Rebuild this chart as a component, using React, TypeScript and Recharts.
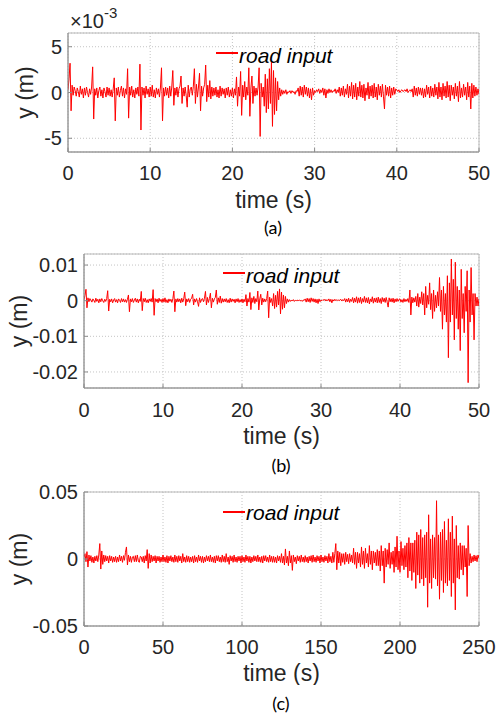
import React from "react";
import {
  LineChart,
  Line,
  XAxis,
  YAxis,
  CartesianGrid,
  ReferenceArea
} from "recharts";

// sample step of the road profiles (s)
const stepAB = 0.125;
const stepC = 0.625;

// (a) road input, values in 1e-3 m, one value every 0.125 s from 0 to 50 s (two rows = 5 s)
const roadA = [
  0.3, 1.5, 3.2, -2.0, 0.8, -0.3, 0.6, 0.2, -0.4, 0.5, 0.1, -0.5, 0.7, -0.2, 0.4, -0.6, 0.5, -0.3, 0.6, 0.0,
  -0.5, 0.4, -0.2, 0.6, 2.8, -2.9, 0.4, -0.3, 0.5, -0.6, 0.2, 0.6, -0.4, 0.3, -0.6, 0.5, 0.1, -0.5, 0.6, -0.3,
  0.5, -0.4, 0.3, -0.5, 0.4, 1.6, -3.1, 0.5, -0.3, 0.6, -0.5, 0.2, 0.7, -0.4, 0.5, -0.6, 0.4, -0.2, 2.6, -2.8,
  0.6, -0.3, 0.7, -0.5, 0.3, -0.6, 0.5, -0.2, 0.6, -0.4, 3.1, -4.1, 0.6, -0.3, 0.5, -0.6, 0.7, -0.2, 0.4, -0.5,
  0.6, -0.4, 0.8, -0.5, 0.3, -0.6, 0.5, -0.2, 0.4, -0.5, 0.6, 2.7, -3.1, 0.5, -0.4, 0.6, -0.3, 0.5, -0.6, 0.7,
  -0.4, 0.6, 2.4, -1.4, 0.5, -0.3, 0.6, -0.5, 0.4, 0.7, 1.8, -1.2, 0.5, -0.4, 0.6, -0.3, -1.6, 0.8, -0.5, 0.4,
  0.6, -0.3, 0.7, 2.6, -1.2, 0.9, -0.5, 0.6, 2.1, -2.0, 0.7, -0.4, 0.5, 0.9, 3.0, -1.0, 0.8, -0.5, 1.3, -0.7,
  0.6, -0.4, 0.5, -0.3, 0.6, -0.5, 0.3, -0.6, 0.7, -0.4, 0.5, -0.2, 0.4, -0.6, 0.5, -0.3, 0.6, -0.5, 0.3, -0.4,
  0.5, -0.6, 0.4, -0.3, 1.7, -1.5, 0.6, -0.4, 2.3, -2.5, 0.8, -0.5, 1.2, -0.8, 0.6, -0.3, 2.7, -2.6, 0.5, 1.8,
  -1.2, 0.7, -0.4, 0.5, -0.3, 0.6, 2.7, -4.8, 1.0, -0.5, 0.6, -1.5, 2.0, -2.2, 1.5, -1.8, 2.6, -1.2, 3.3, -3.7,
  2.4, -2.4, 1.6, -2.0, 1.2, -0.8, 0.5, -0.4, 0.3, -0.2, 0.2, -0.1, 0.3, -0.2, 0.1, 0.0, 0.2, -0.1, 0.2, 0.0,
  0.1, -0.2, 0.2, 0.1, 0.5, -0.4, 0.7, -0.3, 0.6, -0.5, 0.8, -0.2, 0.6, -0.4, 0.5, -0.6, 0.4, -0.8, 0.5, -0.3,
  0.2, 0.0, 0.3, 0.1, 0.4, -0.1, 0.3, 0.0, 0.5, -0.3, 0.4, -0.6, 0.3, -0.1, 0.4, 0.0, 0.3, 0.0, 0.2, 0.1,
  0.4, -0.1, 0.3, 0.0, 0.6, -0.4, 0.5, -0.3, 0.7, -0.5, 0.4, -0.2, 0.9, -0.6, 0.7, -0.4, 1.1, -0.7, 0.8, -0.5,
  1.0, -0.8, 0.6, -0.4, 1.2, -0.5, 0.8, -0.6, 0.9, -0.9, 0.5, -0.3, 1.1, -0.7, 0.7, -0.4, 0.8, -0.6, 1.0, -0.5,
  0.6, -0.8, 0.9, -0.3, 0.7, -0.5, 0.9, -0.4, -1.8, 0.8, -0.3, 0.6, -0.4, 0.7, -0.6, 0.5, -0.3, 0.6, -0.2, 0.4,
  0.3, 0.1, 0.3, 0.0, 0.2, 0.3, 0.1, 0.2, 0.3, 0.1, 0.4, 0.0, 0.2, 0.3, 0.1, 0.4, -0.5, 0.7, -0.3, 0.5,
  -0.4, 0.6, -0.2, 0.5, -0.3, 0.5, -0.6, 0.4, -0.5, 0.8, -0.2, 0.6, -0.6, 0.7, -0.4, 0.5, -0.5, 0.9, -0.3, 0.6,
  -0.7, 1.1, -0.5, 0.6, -0.8, 1.0, -0.4, 0.7, -0.6, 1.2, -0.5, 0.8, -0.9, 0.8, -0.3, 0.6, -0.7, 1.0, -0.4, 0.7,
  -1.0, 1.2, -0.6, 0.5, -0.5, 0.9, -0.3, 0.6, -0.8, 1.1, -0.5, 0.7, -1.8, 1.0, -0.6, 0.8, -0.4, 0.6, -0.3, 0.4,
  -0.2
];

// (b) first 40 s is the same profile as (a); rough section from 40 s to 50 s (mm)
const roadBTail = [
  0.5, -0.4, 0.3, -0.5, 0.6, -0.3, 0.4, -0.2,
  0.6, -0.5, 3.0, -4.0, 1.0, -0.6, 0.8, -0.4,
  1.2, -1.5, 2.0, -1.8, 1.0, -0.8, 2.5, -1.2,
  2.0, -4.0, 4.0, -2.0, 1.5, -1.0, 5.0, -2.5,
  2.0, -5.0, 3.0, -3.0, 1.5, -2.0, 2.5, -1.5,
  6.5, -3.0, 3.0, -8.0, 4.0, -4.0, 2.0, -6.0,
  7.0, -16.0, 5.0, -6.0, 11.7, -4.0, 6.0, -11.0,
  10.8, -5.0, 4.0, -8.0, 3.0, -14.0, 8.8, -5.0,
  2.0, -9.0, 4.0, -3.0, 8.4, -23.0, 3.0, -6.0,
  9.3, -4.0, 2.0, -11.0, 2.0, -1.5, 1.0, -1.5,
  0.5
];
const roadB = [...roadA.slice(0, 320), ...roadBTail];

// (c) road input over 250 s, one value every 0.625 s (mm), one row = 10 s
const roadC = [
  1.0, 4.0, -2.0, 5.5, -6.0, 3.0, -1.5, 2.5, -2.5, 1.5, -3.0, 2.0, -1.5, 2.5, -2.0, 3.0,
  11.5, -7.5, 6.0, -4.0, 3.0, -2.0, 2.5, -1.5, 2.0, -3.0, 2.5, -1.5, 2.0, -2.5, 1.5, -2.0,
  2.0, -2.5, 1.5, -2.0, 3.0, -1.5, 2.0, -2.5, 2.5, -1.0, 5.0, 9.0, -4.5, 3.0, -2.0, 2.0,
  -2.5, 1.5, 2.0, -2.0, 2.5, -2.0, 3.0, -1.5, -2.5, 2.0, 1.5, -2.0, 2.0, -3.0, 2.5, -1.5,
  7.0, -7.0, 4.0, -3.0, 3.0, -2.0, 2.0, -1.5, 2.5, -3.0, 2.0, -1.5, 2.0, -2.5, 1.5, -2.0,
  3.0, -2.0, 1.5, -2.5, 2.5, -3.0, 2.0, -1.5, 2.5, -2.0, 1.5, -2.5, 3.0, -2.0, 2.0, -2.5,
  2.5, -1.5, 2.0, -3.0, 4.0, -2.0, 1.5, -2.5, 2.5, -2.0, 2.0, -2.5, 1.5, -2.0, 2.0, -3.0,
  2.5, -2.0, 1.5, -2.5, 3.0, -1.5, 2.0, -2.5, 2.0, -3.0, 1.5, -2.0, 2.5, -1.5, 2.0, -2.0,
  3.0, -2.0, 1.5, -2.5, 2.0, -3.0, 2.5, -1.5, 2.5, -2.0, 1.5, -2.5, 3.0, -2.0, 2.0, -2.5,
  4.0, -2.0, 1.5, -4.0, 2.5, -1.5, 2.0, -2.5, 3.0, -2.0, 1.5, -2.5, 2.0, -1.5, 2.0, -3.0,
  2.5, -2.0, 1.5, -2.5, 3.0, -1.5, 2.0, -2.5, 2.0, -3.0, 1.5, -2.0, 2.5, -1.5, 2.0, -2.0,
  3.0, -2.0, 1.5, -2.5, 2.0, -3.0, 2.5, -1.5, 2.5, -2.0, 1.5, -2.5, 3.0, -2.0, 2.0, -2.5,
  2.0, -2.5, 1.5, -3.0, 2.5, -1.5, 2.0, -2.5, 4.0, -3.0, 2.0, -4.5, 7.5, -3.0, 2.0, -5.0,
  6.0, -3.0, 2.5, -8.5, 3.0, -2.0, 1.5, -3.5, 2.5, -1.5, 2.0, -2.5, 3.0, -2.0, 1.5, -2.5,
  2.5, -2.0, 1.5, -3.0, 2.0, -1.5, 2.5, -2.5, 3.0, -2.0, 1.5, -2.5, 2.5, -1.5, 2.0, -3.0,
  3.0, -2.0, 1.5, -2.5, 2.5, -1.5, 2.0, -3.0, 4.0, -2.0, 2.0, -3.0, 5.0, -2.5, 4.0, 11.5,
  -8.0, 6.0, -3.0, 5.0, -5.0, 4.0, -2.5, 4.0, -4.0, 5.0, -2.0, 3.5, -3.5, 4.0, -2.0, 3.0,
  -3.0, 8.0, -4.0, 5.0, -7.0, 5.0, -3.0, 4.0, -6.0, 9.0, -4.0, 6.0, -7.0, 8.0, -3.0, 4.0,
  -6.0, 10.0, -4.0, 6.0, -8.0, 6.0, -3.0, 5.0, -5.0, 7.0, -5.0, 6.0, -9.0, 10.0, -5.0, 6.0,
  -18.0, 8.0, -6.0, 7.0, -4.0, 12.0, -7.0, 5.0, -4.0, 6.0, -10.0, 9.0, -6.0, 17.0, -8.0, 6.0,
  -10.0, 13.0, -5.0, 8.0, -8.0, 10.0, -6.0, 12.0, -14.0, 16.0, -9.0, 12.0, -16.0, 12.0, -10.0, 14.0,
  -22.0, 20.0, -12.0, 18.0, -18.0, 22.0, -15.0, 16.0, -20.0, 18.0, -14.0, 20.0, -36.0, 33.0, -18.0, 15.0,
  -22.0, 18.0, -14.0, 16.0, -15.0, 43.5, -20.0, 18.0, -30.0, 20.0, -16.0, 22.0, -25.0, 28.0, -18.0, 14.0,
  -20.0, 30.0, -16.0, 20.0, -28.0, 32.0, -18.0, 15.0, -38.0, 25.0, -14.0, 10.0, -15.0, 12.0, -8.0, 10.0,
  -12.0, 10.0, -6.0, 8.0, -28.0, 25.0, -5.0, 4.0, -3.0, 2.0, -2.0, 3.0, -1.5, 2.5, -2.0, 3.0,
  0.5
];

// axis ticks
const ticksX50 = [0, 10, 20, 30, 40, 50];
const ticksX250 = [0, 50, 100, 150, 200, 250];
const ticksYA = [-5, 0, 5];
const ticksYB = [-0.02, -0.01, 0, 0.01];
const ticksYC = [-0.05, 0, 0.05];

const dataA = roadA.map((v, i) => ({ t: i * stepAB, y: v }));
const dataB = roadB.map((v, i) => ({ t: i * stepAB, y: v / 1000 }));
const dataC = roadC.map((v, i) => ({ t: i * stepC, y: v / 1000 }));

const font = "'Liberation Sans', Arial, sans-serif";
const textColor = "#262626";
const axisColor = "#8c8c8c";

type PanelProps = {
  data: { t: number; y: number }[];
  top: number;
  height: number;
  plotTop: number;
  plotLeft: number;
  plotBottom: number;
  xDomain: [number, number];
  xTicks: number[];
  yDomain: [number, number];
  yTicks: number[];
  xTickMargin: number;
  xLabelOffset: number;
  yLabelX: number;
};

const Panel: React.FC<PanelProps> = (p) => {
  const tickStyle = { fontSize: 20, fill: textColor, fontFamily: font };
  const titleStyle = { fontSize: 23, fill: textColor, fontFamily: font };
  return (
    <div style={{ position: "absolute", left: 0, top: p.top }}>
      <LineChart
        width={496}
        height={p.height}
        data={p.data}
        margin={{ top: p.plotTop, right: 17, bottom: 0, left: 0 }}
      >
        <CartesianGrid stroke="#c4c4c4" strokeDasharray="1 2" />
        <XAxis
          dataKey="t"
          type="number"
          domain={p.xDomain}
          ticks={p.xTicks}
          interval={0}
          allowDataOverflow
          height={p.height - p.plotBottom}
          tickSize={-4}
          tickMargin={p.xTickMargin}
          axisLine={{ stroke: axisColor }}
          tickLine={{ stroke: axisColor }}
          tick={tickStyle}
          label={{
            value: "time (s)",
            position: "insideBottom",
            offset: p.xLabelOffset,
            style: titleStyle
          }}
        />
        <YAxis
          type="number"
          domain={p.yDomain}
          ticks={p.yTicks}
          interval={0}
          allowDataOverflow
          width={p.plotLeft}
          tickSize={-4}
          tickMargin={10}
          axisLine={{ stroke: axisColor }}
          tickLine={{ stroke: axisColor }}
          tick={tickStyle}
          label={{
            value: "y (m)",
            angle: -90,
            position: "insideLeft",
            offset: p.yLabelX,
            textAnchor: "middle",
            style: { ...titleStyle, textAnchor: "middle" }
          }}
        />
        <ReferenceArea
          x1={p.xDomain[0]}
          x2={p.xDomain[1]}
          y1={p.yDomain[0]}
          y2={p.yDomain[1]}
          fill="none"
          stroke="#b8b8b8"
          ifOverflow="visible"
        />
        <Line
          type="linear"
          dataKey="y"
          stroke="#ff0000"
          strokeWidth={1}
          dot={false}
          isAnimationActive={false}
        />
      </LineChart>
    </div>
  );
};

const LegendTag: React.FC<{ lineX: number; lineY: number; textTop: number }> = ({
  lineX,
  lineY,
  textTop
}) => (
  <>
    <div
      style={{
        position: "absolute",
        left: lineX,
        top: lineY - 1,
        width: 22,
        height: 2,
        background: "#ff0000"
      }}
    />
    <div
      style={{
        position: "absolute",
        left: lineX + 23,
        top: textTop,
        fontFamily: font,
        fontStyle: "italic",
        fontSize: 21,
        lineHeight: "21px",
        color: "#000",
        whiteSpace: "nowrap"
      }}
    >
      road input
    </div>
  </>
);

const Caption: React.FC<{ cx: number; cy: number; text: string }> = ({ cx, cy, text }) => (
  <div
    style={{
      position: "absolute",
      left: cx - 40,
      top: cy - 10,
      width: 80,
      height: 20,
      lineHeight: "20px",
      textAlign: "center",
      fontFamily: "Lato, 'Open Sans', sans-serif",
      fontSize: 18,
      color: "#000"
    }}
  >
    {text}
  </div>
);

export default function App() {
  return (
    <div
      style={{
        position: "absolute",
        left: 0,
        top: 0,
        width: 496,
        height: 713,
        background: "#fff",
        overflow: "hidden"
      }}
    >
      <Panel
        data={dataA}
        top={0}
        height={215}
        plotTop={33}
        plotLeft={68}
        plotBottom={152}
        xDomain={[0, 50]}
        xTicks={ticksX50}
        yDomain={[-6.5, 6.5]}
        yTicks={ticksYA}
        xTickMargin={18}
        xLabelOffset={7}
        yLabelX={25}
      />
      <Panel
        data={dataB}
        top={240}
        height={210}
        plotTop={14}
        plotLeft={84}
        plotBottom={148}
        xDomain={[0, 50]}
        xTicks={ticksX50}
        yDomain={[-0.0245, 0.0131]}
        yTicks={ticksYB}
        xTickMargin={19}
        xLabelOffset={6}
        yLabelX={19}
      />
      <Panel
        data={dataC}
        top={470}
        height={215}
        plotTop={22}
        plotLeft={84}
        plotBottom={156}
        xDomain={[0, 250]}
        xTicks={ticksX250}
        yDomain={[-0.05, 0.05]}
        yTicks={ticksYC}
        xTickMargin={18}
        xLabelOffset={4}
        yLabelX={19}
      />

      {/* exponent of panel (a) */}
      <div
        style={{
          position: "absolute",
          left: 70,
          top: 12,
          fontFamily: font,
          fontSize: 20,
          lineHeight: "19px",
          color: textColor,
          whiteSpace: "nowrap"
        }}
      >
        ×10
        <span style={{ fontSize: 15, position: "relative", top: -10 }}>-3</span>
      </div>

      <LegendTag lineX={216} lineY={53} textTop={45} />
      <LegendTag lineX={223} lineY={273} textTop={265} />
      <LegendTag lineX={223} lineY={512} textTop={502} />

      <Caption cx={273} cy={227} text="(a)" />
      <Caption cx={281} cy={465} text="(b)" />
      <Caption cx={281} cy={703} text="(c)" />
    </div>
  );
}
